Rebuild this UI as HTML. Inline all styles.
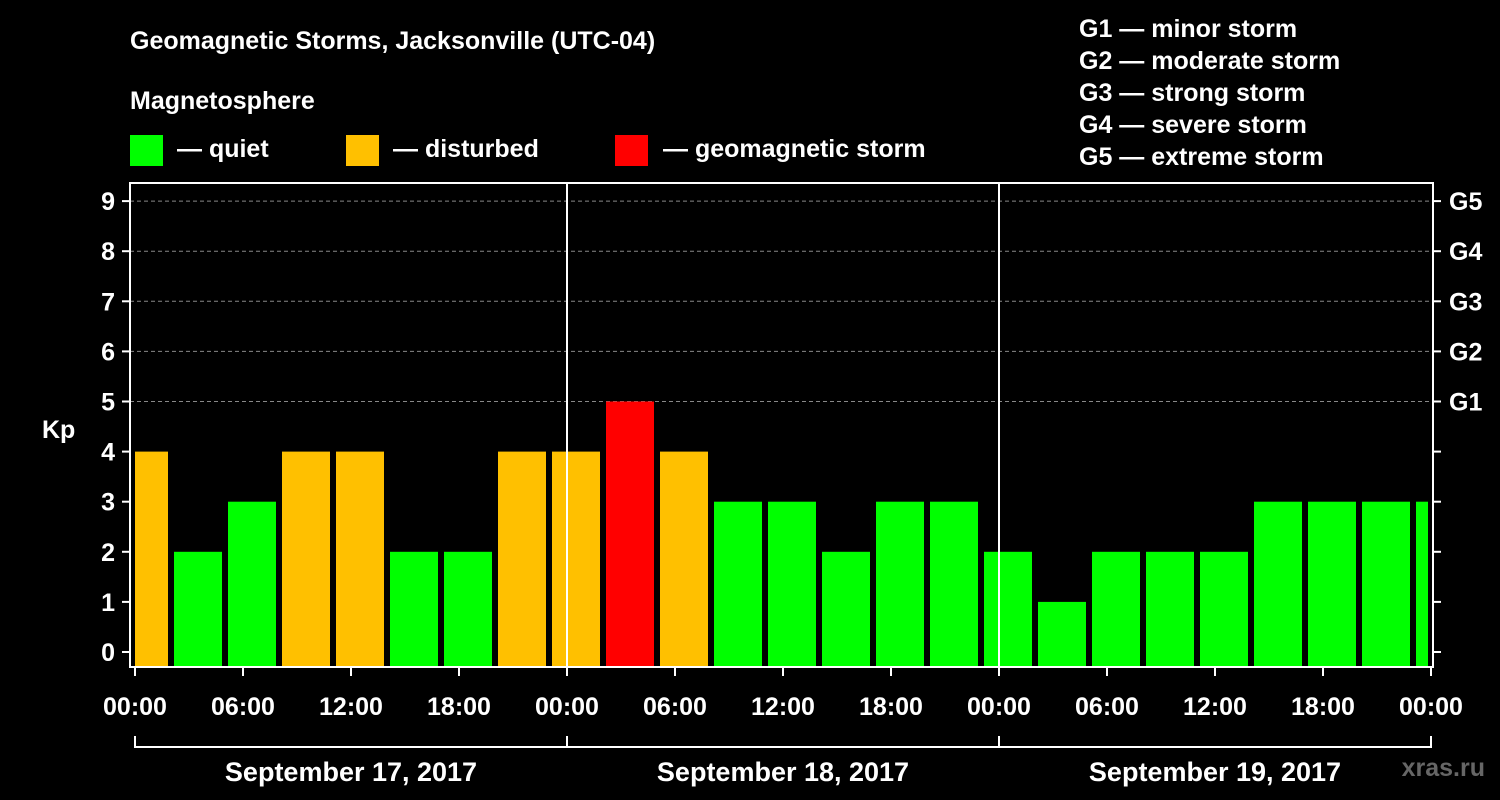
<!DOCTYPE html>
<html><head><meta charset="utf-8"><style>
body{margin:0;background:#000;}
svg{display:block;font-family:"Liberation Sans",Arial,sans-serif;font-weight:bold;}
</style></head><body>
<svg id="chart" width="1500" height="800" viewBox="0 0 1500 800">
<rect width="1500" height="800" fill="#000"/>
<text x="130" y="49" fill="#fff" font-size="25">Geomagnetic Storms, Jacksonville (UTC-04)</text>
<text x="130" y="109" fill="#fff" font-size="25">Magnetosphere</text>
<g><rect x="130" y="135" width="33" height="31" fill="#00ff00"/><text x="177" y="157" fill="#fff" font-size="25">— quiet</text></g>
<g><rect x="346" y="135" width="33" height="31" fill="#ffc000"/><text x="393" y="157" fill="#fff" font-size="25">— disturbed</text></g>
<g><rect x="615" y="135" width="33" height="31" fill="#ff0000"/><text x="663" y="157" fill="#fff" font-size="25">— geomagnetic storm</text></g>
<g fill="#fff" font-size="25">
<text x="1079" y="37">G1 — minor storm</text><text x="1079" y="69">G2 — moderate storm</text><text x="1079" y="101">G3 — strong storm</text><text x="1079" y="133">G4 — severe storm</text><text x="1079" y="165">G5 — extreme storm</text></g>
<text x="42" y="438" fill="#fff" font-size="25">Kp</text>
<text x="1485" y="776" fill="#666" font-size="25" text-anchor="end">xras.ru</text>
<g id="grid"></g><g id="bars"></g><g id="axes"></g>
</svg>
<script>
const kpValues=[4,2,3,4,4,2,2,4,4,5,4,3,3,2,3,3,2,1,2,2,2,3,3,3,3];
const yTicks=[0,1,2,3,4,5,6,7,8,9];
const gLabels=["G1","G2","G3","G4","G5"];
const xLabels=["00:00","06:00","12:00","18:00","00:00","06:00","12:00","18:00","00:00","06:00","12:00","18:00","00:00"];
const dates=["September 17, 2017","September 18, 2017","September 19, 2017"];
const NS="http://www.w3.org/2000/svg";
const L=130,R=1433,T=183,B=667,X0=135,HPX=18;
const y=k=>652-50.1*k;
const xh=h=>X0+h*HPX;
function mk(tag,attrs,parent,text){const e=document.createElementNS(NS,tag);for(const k in attrs)e.setAttribute(k,attrs[k]);if(text!=null)e.textContent=text;document.getElementById(parent).appendChild(e);return e;}
for(let k=5;k<=9;k++){const e=mk('line',{x1:L,x2:R,y1:y(k),y2:y(k),stroke:'#888','stroke-dasharray':'4,3'},'grid');

}
kpValues.forEach((v,i)=>{let x1=xh(3*i)-15,x2=x1+48;x1=Math.max(x1,X0);x2=Math.min(x2,1428);
const c=v>=5?'#ff0000':v>=4?'#ffc000':'#00ff00';
const e=mk('rect',{x:x1,y:y(v),width:x2-x1,height:B-y(v),fill:c},'bars');

});
mk('rect',{x:L,y:T,width:R-L,height:B-T,fill:'none',stroke:'#fff','stroke-width':2},'axes');
[0,1,2].forEach(d=>{const x=xh(24*d);if(d>0){const e=mk('line',{x1:x,x2:x,y1:T,y2:B,stroke:'#fff','stroke-width':2},'axes');

}
const t=mk('text',{x:xh(24*d+12),y:781,fill:'#fff','font-size':27,'text-anchor':'middle'},'axes',dates[d]);

});
mk('line',{x1:X0,x2:xh(72),y1:747,y2:747,stroke:'#fff','stroke-width':2},'axes');
[0,1,2,3].forEach(d=>mk('line',{x1:xh(24*d),x2:xh(24*d),y1:736,y2:748,stroke:'#fff','stroke-width':2},'axes'));
yTicks.forEach(k=>{mk('line',{x1:122,x2:L,y1:y(k),y2:y(k),stroke:'#fff','stroke-width':2},'axes');
mk('line',{x1:R,x2:1441,y1:y(k),y2:y(k),stroke:'#fff','stroke-width':2},'axes');
const t=mk('text',{x:115,y:y(k)+9,fill:'#fff','font-size':25,'text-anchor':'end'},'axes',String(k));

});
gLabels.forEach((g,i)=>{const t=mk('text',{x:1449,y:y(5+i)+9,fill:'#fff','font-size':25},'axes',g);

});
xLabels.forEach((s,i)=>{const x=xh(6*i);mk('line',{x1:x,x2:x,y1:B,y2:676,stroke:'#fff','stroke-width':2},'axes');
const t=mk('text',{x:x,y:715,fill:'#fff','font-size':25,'text-anchor':'middle'},'axes',s);

});
</script>
</body></html>
